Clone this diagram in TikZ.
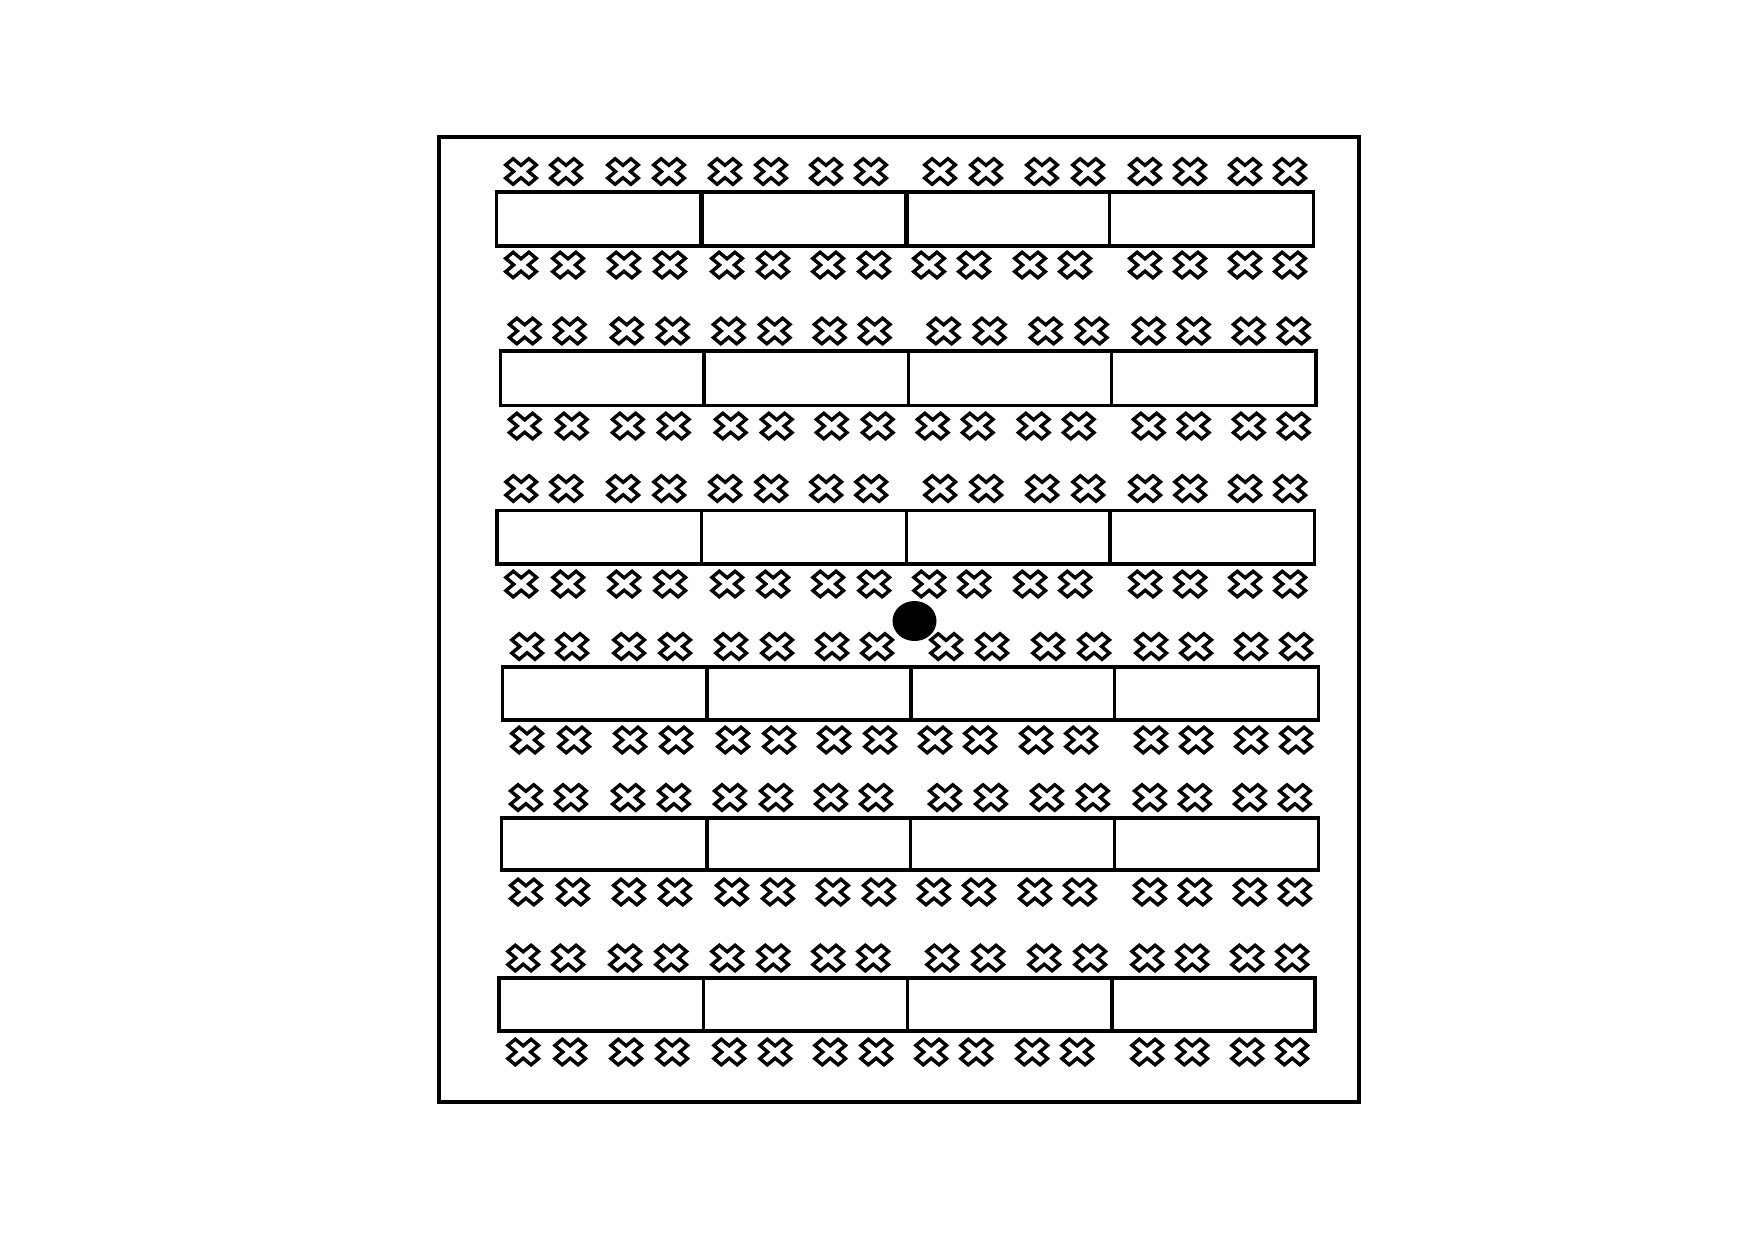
\documentclass[tikz,border=0pt]{standalone}
\begin{document}
\begin{tikzpicture}[x=0.1mm,y=-0.1mm,
  frame/.style={line width=0.36mm},
  tablebox/.style={line width=0.33mm},
  thickdiv/.style={line width=0.5mm},
  chairline/.style={line width=0.34mm, line join=miter},
  pics/chair/.style={code={
    \draw[chairline] (-7.89,12.78) -- (0,6.21) -- (7.89,12.78) -- (15.3,6.59)
      -- (7.43,0) -- (15.3,-6.59) -- (7.89,-12.78) -- (0,-6.21)
      -- (-7.89,-12.78) -- (-15.3,-6.59) -- (-7.43,0) -- (-15.3,6.59) -- cycle;
  }}]
\useasboundingbox[fill=white] (0,0) rectangle (1754,1239);
% room outline
\draw[frame] (439,137) rectangle (1359,1102);
% rows of tables with chairs
\foreach \L/\da/\db/\dc/\R/\T/\B/\ct/\cb in {
  496.7/701.7/906.7/1109.3/1313.3/192/246/171.5/265,
  500.4/704/908.2/1111.8/1316/351/405.5/331/426,
  496.9/701.7/906.5/1110/1314.3/510.5/564/488.5/584,
  502.8/707/911/1114.8/1318.4/667/720/646.5/740,
  501.6/707/910.6/1114.2/1318.4/818/870/797.5/892,
  498.9/703.8/907.6/1111.9/1315/978/1031/958/1052}
{
  \draw[tablebox] (\L,\T) rectangle (\da,\B);
  \draw[tablebox] (\da,\T) rectangle (\db,\B);
  \draw[tablebox] (\db,\T) rectangle (\dc,\B);
  \draw[tablebox] (\dc,\T) rectangle (\R,\B);
  \foreach \o in {24.3,69.3,126.3,172.3,228.3,274.3,329.3,374.3,443.3,489.3,545.3,591.3,648.3,693.3,748.3,793.3}
    \pic at ({\L+\o},\ct) {chair};
  \foreach \o in {24.3,71.3,127.3,173.3,230.3,276.3,331.3,377.3,432.3,477.3,533.3,578.3,648.3,693.3,748.3,793.3}
    \pic at ({\L+\o},\cb) {chair};
}
% heavier dividers in the first row
\draw[thickdiv] (701.7,192) -- (701.7,246);
\draw[thickdiv] (906.7,192) -- (906.7,246);
% black dot
\fill[black] (914.5,621) ellipse [x radius=22, y radius=20];
\end{tikzpicture}
\end{document}
